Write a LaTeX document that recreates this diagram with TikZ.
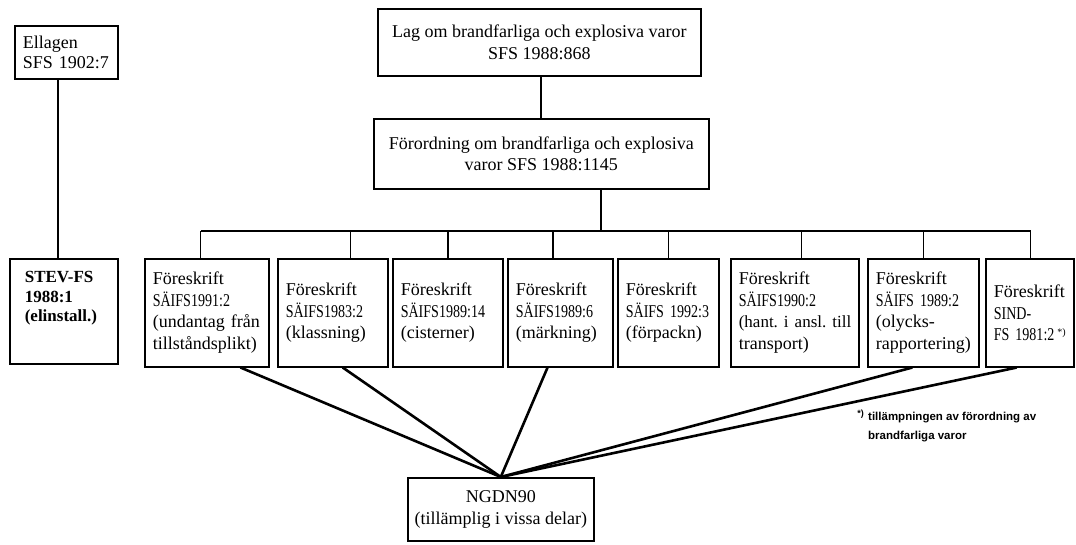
\documentclass[tikz,border=0pt]{standalone}
\usepackage{fontspec}
\setmainfont{Liberation Serif}
\newfontfamily\cond[FakeStretch=0.78]{Liberation Serif}
\newfontfamily\notefont{Liberation Sans}
\usetikzlibrary{calc}
\tikzset{
  box/.style={draw, line width=1.6pt, anchor=north west},
  fbox/.style={box, align=left, inner xsep=8pt, inner ysep=0pt, minimum height=108pt,
    font=\frenchspacing\fontsize{18}{21.5}\selectfont},
  topbox/.style={box, align=center, inner ysep=0pt, font=\fontsize{18}{21.5}\selectfont},
  tree/.style={line width=1.5pt},
  conn/.style={line width=2.6pt, line cap=round},
}
\begin{document}
\begin{tikzpicture}[x=1pt,y=-1pt]
\useasboundingbox (0,0) rectangle (1076,545);

% left column
\node[box, align=left, inner xsep=8pt, inner ysep=0pt, text width=87pt, minimum height=53pt,
  font=\fontsize{18}{19.5}\selectfont] (ell) at (14,25) {Ellagen\\SFS 1902:7};
\node[box, inner sep=0pt, font=\frenchspacing\bfseries\fontsize{17}{19.5}\selectfont] (stev) at (9,258)
  {\parbox[c][105pt][t]{108pt}{\raggedright\leftskip=15pt\rule{0pt}{24pt}STEV-FS\\1988:1\\(elinstall.)}};

% top boxes
\node[topbox, minimum width=323pt, minimum height=67pt] (lag) at (377,8)
  {Lag om brandfarliga och explosiva varor\\SFS 1988:868};
\node[topbox, minimum width=335pt, minimum height=70pt] (forr) at (373,118)
  {Förordning om brandfarliga och explosiva\\varor SFS 1988:1145};

% regulation boxes
\node[fbox, text width=108pt] (b1) at (144,258) {Föreskrift\\{\cond SÄIFS1991:2}\\(undantag från\\tillståndsplikt)};
\node[fbox, text width=94pt] (b2) at (277,258) {Föreskrift\\{\cond SÄIFS1983:2}\\(klassning)};
\node[fbox, text width=94pt] (b3) at (392,258) {Föreskrift\\{\cond SÄIFS1989:14}\\(cisterner)};
\node[fbox, text width=89pt] (b4) at (507,258) {Föreskrift\\{\cond SÄIFS1989:6}\\(märkning)};
\node[fbox, text width=85pt] (b5) at (617,258) {Föreskrift\\{\cond SÄIFS 1992:3}\\(förpackn)};
\node[fbox, text width=112pt] (b6) at (730,258) {Föreskrift\\{\cond SÄIFS1990:2}\\\mbox{\fontsize{17}{21.5}\selectfont(hant. i ansl. till}\\transport)};
\node[fbox, text width=95pt] (b7) at (867,258) {Föreskrift\\{\cond SÄIFS 1989:2}\\(olycks-\\rapportering)};
\node[fbox, text width=72pt] (b8) at (985,258) {Föreskrift\\{\cond SIND-}\\{\cond FS 1981:2}\,\raisebox{5pt}{\fontsize{10}{10}\selectfont *)}};

% bottom box
\node[topbox, minimum width=186pt, minimum height=63pt, font=\fontsize{18}{22}\selectfont] (ng) at (407,477)
  {NGDN90\\(tillämplig i vissa delar)};

% footnote
\node[anchor=north west, inner sep=0pt, align=left,
  font=\notefont\bfseries\fontsize{11.5}{19}\selectfont] (fn) at (868,412)
  {tillämpningen av förordning av\\brandfarliga varor};
\node[anchor=north east, inner sep=0pt, font=\notefont\bfseries\fontsize{9}{9}\selectfont]
  (fnstar) at ([xshift=-4pt,yshift=2pt]fn.north west) {*)};

% tree connectors
\coordinate (busy) at (0,231);
\draw[tree] ($(ell.south west)!0.42!(ell.south east)$) coordinate (e1) -- (e1 |- stev.north);
\draw[tree] ($(lag.south west)!0.505!(lag.south east)$) coordinate (l1) -- (l1 |- forr.north);
\draw[tree] ($(forr.south west)!0.678!(forr.south east)$) coordinate (f1) -- (f1 |- busy);
\foreach \n/\f in {b1/0.45,b2/0.66,b3/0.5,b4/0.43,b5/0.5,b6/0.55,b7/0.5,b8/0.51}{
  \draw[tree] ($(\n.north west)!\f!(\n.north east)$) coordinate (d\n) -- (d\n |- busy);
}
\draw[tree] (db1 |- busy) -- (db8 |- busy);

% converging connectors
\foreach \n/\f in {b1/0.77,b2/0.59,b4/0.38,b7/0.4,b8/0.35}{
  \draw[conn] (ng.north) -- ($(\n.south west)!\f!(\n.south east)$);
}
\end{tikzpicture}
\end{document}
